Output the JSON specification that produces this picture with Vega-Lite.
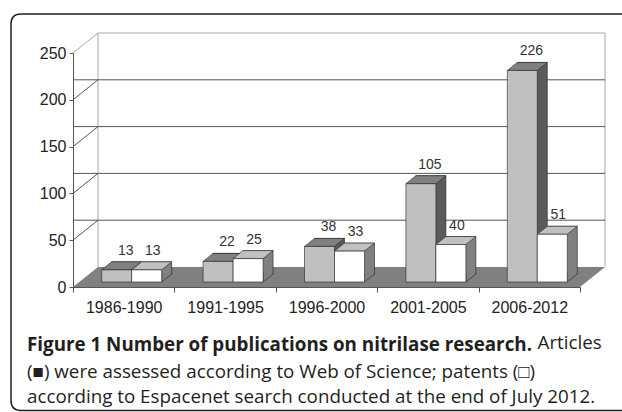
{
  "$schema": "https://vega.github.io/schema/vega-lite/v6.json",
  "width": 507,
  "height": 234,
  "autosize": {"type": "none"},
  "padding": {"left": 73, "top": 53, "right": 42, "bottom": 125},
  "background": "#ffffff",
  "config": {
    "view": {"stroke": null},
    "scale": {"bandPaddingInner": 0, "bandPaddingOuter": 0},
    "axis": {"labelFont": "Liberation Sans", "labelFontSize": 16, "labelColor": "#222222", "domainColor": "#555555", "tickColor": "#555555", "grid": false, "zindex": 1}
  },
  "title": {
    "text": "Figure 1 Number of publications on nitrilase research.",
    "subtitle": ["(■) were assessed according to Web of Science; patents (□)", "according to Espacenet search conducted at the end of July 2012."],
    "orient": "bottom",
    "anchor": "start",
    "frame": "group",
    "dx": -46,
    "offset": -78,
    "font": "Open Sans",
    "fontSize": 18.8,
    "fontWeight": "bold",
    "color": "#231f20",
    "subtitleFont": "Open Sans",
    "subtitleFontSize": 18.8,
    "subtitleColor": "#231f20",
    "subtitleLineHeight": 25.3,
    "subtitlePadding": 8.5
  },
  "datasets": {
    "pubs": [
      {"period": "1986-1990", "type": "Articles", "count": 13},
      {"period": "1991-1995", "type": "Articles", "count": 22},
      {"period": "1996-2000", "type": "Articles", "count": 38},
      {"period": "2001-2005", "type": "Articles", "count": 105},
      {"period": "2006-2012", "type": "Articles", "count": 226},
      {"period": "1986-1990", "type": "Patents", "count": 13},
      {"period": "1991-1995", "type": "Patents", "count": 25},
      {"period": "1996-2000", "type": "Patents", "count": 33},
      {"period": "2001-2005", "type": "Patents", "count": 40},
      {"period": "2006-2012", "type": "Patents", "count": 51}
    ],
    "levels": [{"level": 50}, {"level": 100}, {"level": 150}, {"level": 200}],
    "one": [{}]
  },
  "layer": [
    {
      "data": {"name": "one"},
      "mark": {"type": "point", "shape": "M-305.5,-156L313.5,-156L313.5,240.5L-305.5,240.5Q-315.5,240.5,-315.5,230.5L-315.5,-146Q-315.5,-156,-305.5,-156Z", "size": 4, "filled": false, "stroke": "#231f20", "strokeWidth": 1.5, "opacity": 1},
      "encoding": {}
    },
    {
      "data": {"name": "one"},
      "mark": {"type": "point", "shape": "M-253.5,-117L-228.5,-137L278.5,-137L278.5,97M-228.5,-137L-228.5,97", "size": 4, "filled": false, "stroke": "#a8a8a8", "strokeWidth": 1, "opacity": 1},
      "encoding": {}
    },
    {
      "data": {"name": "one"},
      "mark": {"type": "point", "shape": "M-253.5,117L253.5,117L278.5,97L-228.5,97Z", "size": 4, "filled": true, "fill": "#808080", "strokeWidth": 0, "opacity": 1},
      "encoding": {}
    },
    {
      "data": {"name": "levels"},
      "mark": {"type": "rule", "color": "#555555", "strokeWidth": 1, "xOffset": 25, "x2Offset": 25, "yOffset": -20, "y2Offset": -20},
      "encoding": {
        "y": {"field": "level", "type": "quantitative", "scale": {"domain": [0, 250], "nice": false}, "axis": {"title": null, "values": [0, 50, 100, 150, 200, 250], "tickSize": 4, "labelPadding": 3}}
      }
    },
    {
      "data": {"name": "levels"},
      "mark": {"type": "point", "shape": "M-253.5,0L-228.5,-20", "size": 4, "filled": false, "stroke": "#555555", "strokeWidth": 1, "opacity": 1},
      "encoding": {
        "y": {"field": "level", "type": "quantitative", "scale": {"domain": [0, 250], "nice": false}}
      }
    },
    {
      "data": {"name": "pubs"},
      "transform": [{"filter": "datum.type === 'Articles'"}],
      "mark": {"type": "bar", "width": 30, "xOffset": 3, "x2Offset": 3, "yOffset": -13, "y2Offset": -13, "fill": "#5a5a5a", "stroke": "#222222", "strokeWidth": 0.6},
      "encoding": {
        "x": {"field": "period", "type": "nominal", "scale": {"type": "band"}, "axis": {"title": "Articles", "titleX": 464, "titleY": 61, "titleAlign": "left", "titleBaseline": "alphabetic", "titleFont": "Open Sans", "titleFontSize": 18.8, "titleFontWeight": "normal", "titleColor": "#231f20", "tickBand": "extent", "tickSize": 5, "labelPadding": 7, "labelAngle": 0}},
        "y": {"field": "count", "type": "quantitative", "scale": {"domain": [0, 250], "nice": false}}
      }
    },
    {
      "data": {"name": "pubs"},
      "transform": [{"filter": "datum.type === 'Articles'"}],
      "mark": {"type": "point", "shape": "M-15,0L15,0L25,-8L-5,-8Z", "size": 4, "filled": true, "fill": "#808080", "stroke": "#222222", "strokeWidth": 0.6, "opacity": 1, "xOffset": -7, "yOffset": -5},
      "encoding": {
        "x": {"field": "period", "type": "nominal", "scale": {"type": "band"}},
        "y": {"field": "count", "type": "quantitative", "scale": {"domain": [0, 250], "nice": false}}
      }
    },
    {
      "data": {"name": "pubs"},
      "transform": [{"filter": "datum.type === 'Articles'"}],
      "mark": {"type": "bar", "width": 30, "xOffset": -7, "x2Offset": -7, "yOffset": -5, "y2Offset": -5, "fill": "#c0c0c0", "stroke": "#222222", "strokeWidth": 0.6},
      "encoding": {
        "x": {"field": "period", "type": "nominal", "scale": {"type": "band"}},
        "y": {"field": "count", "type": "quantitative", "scale": {"domain": [0, 250], "nice": false}}
      }
    },
    {
      "data": {"name": "pubs"},
      "transform": [{"filter": "datum.type === 'Patents'"}],
      "mark": {"type": "bar", "width": 30, "xOffset": 33, "x2Offset": 33, "yOffset": -13, "y2Offset": -13, "fill": "#808080", "stroke": "#222222", "strokeWidth": 0.6},
      "encoding": {
        "x": {"field": "period", "type": "nominal", "scale": {"type": "band"}},
        "y": {"field": "count", "type": "quantitative", "scale": {"domain": [0, 250], "nice": false}}
      }
    },
    {
      "data": {"name": "pubs"},
      "transform": [{"filter": "datum.type === 'Patents'"}],
      "mark": {"type": "point", "shape": "M15,-9L15,0L25,-8L25,-9", "size": 4, "filled": true, "fill": "#808080", "stroke": "#222222", "strokeWidth": 0.6, "opacity": 1, "xOffset": 23, "yOffset": -5},
      "encoding": {
        "x": {"field": "period", "type": "nominal", "scale": {"type": "band"}},
        "y": {"datum": 0, "type": "quantitative", "scale": {"domain": [0, 250], "nice": false}}
      }
    },
    {
      "data": {"name": "pubs"},
      "transform": [{"filter": "datum.type === 'Patents'"}],
      "mark": {"type": "point", "shape": "M-15,0L15,0L25,-8L-5,-8Z", "size": 4, "filled": true, "fill": "#c0c0c0", "stroke": "#222222", "strokeWidth": 0.6, "opacity": 1, "xOffset": 23, "yOffset": -5},
      "encoding": {
        "x": {"field": "period", "type": "nominal", "scale": {"type": "band"}},
        "y": {"field": "count", "type": "quantitative", "scale": {"domain": [0, 250], "nice": false}}
      }
    },
    {
      "data": {"name": "pubs"},
      "transform": [{"filter": "datum.type === 'Patents'"}],
      "mark": {"type": "bar", "width": 30, "xOffset": 23, "x2Offset": 23, "yOffset": -5, "y2Offset": -5, "fill": "#ffffff", "stroke": "#222222", "strokeWidth": 0.6},
      "encoding": {
        "x": {"field": "period", "type": "nominal", "scale": {"type": "band"}},
        "y": {"field": "count", "type": "quantitative", "scale": {"domain": [0, 250], "nice": false}}
      }
    },
    {
      "data": {"name": "pubs"},
      "transform": [{"filter": "datum.type === 'Articles'"}],
      "mark": {"type": "text", "font": "Liberation Sans", "fontSize": 14, "color": "#333333", "baseline": "alphabetic", "align": "center", "dx": 2, "dy": -20},
      "encoding": {
        "x": {"field": "period", "type": "nominal", "scale": {"type": "band"}},
        "y": {"field": "count", "type": "quantitative", "scale": {"domain": [0, 250], "nice": false}},
        "text": {"field": "count", "type": "quantitative"}
      }
    },
    {
      "data": {"name": "pubs"},
      "transform": [{"filter": "datum.type === 'Patents'"}],
      "mark": {"type": "text", "font": "Liberation Sans", "fontSize": 14, "color": "#333333", "baseline": "alphabetic", "align": "center", "dx": 29, "dy": -20},
      "encoding": {
        "x": {"field": "period", "type": "nominal", "scale": {"type": "band"}},
        "y": {"field": "count", "type": "quantitative", "scale": {"domain": [0, 250], "nice": false}},
        "text": {"field": "count", "type": "quantitative"}
      }
    }
  ]
}
